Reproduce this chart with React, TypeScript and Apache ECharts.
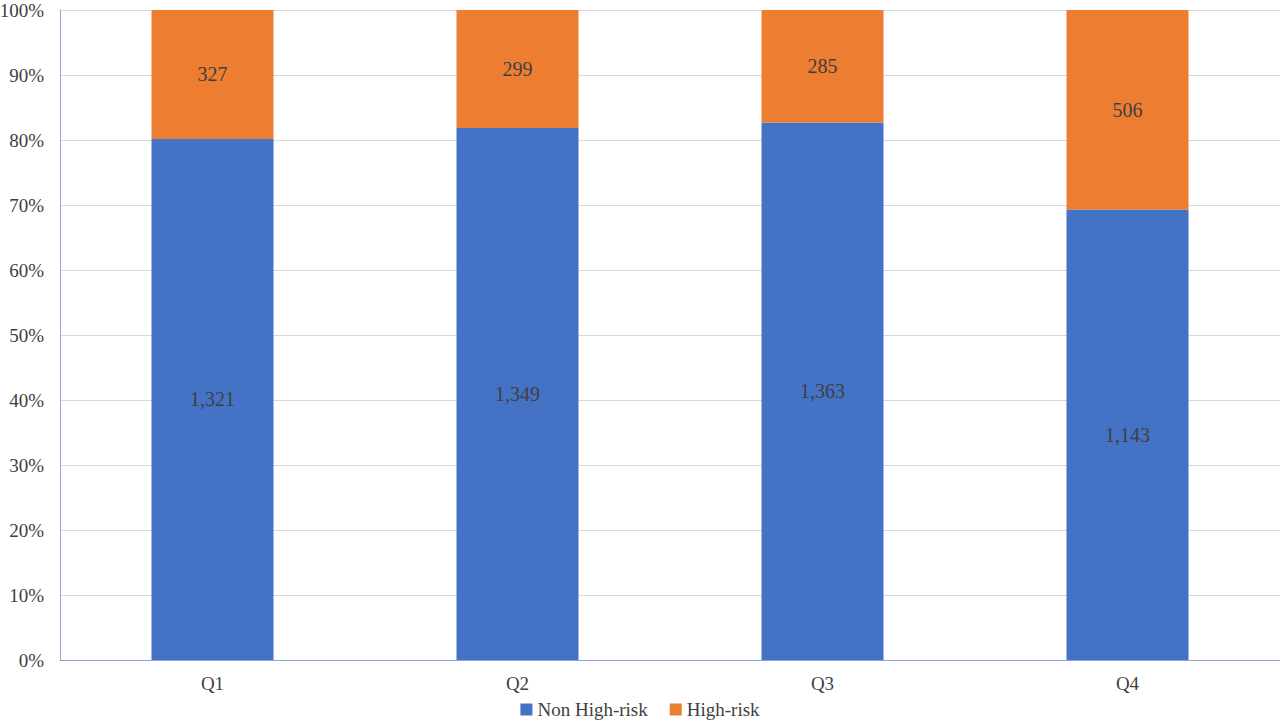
import React, { useEffect, useRef } from "react";
import * as echarts from "echarts";

const categories = ["Q1", "Q2", "Q3", "Q4"];
const nonHighRisk = [1321, 1349, 1363, 1143];
const highRisk = [327, 299, 285, 506];
const seriesNames = ["Non High-risk", "High-risk"];

export default function App() {
  const ref = useRef<HTMLDivElement>(null);
  useEffect(() => {
    if (!ref.current) return;
    const chart = echarts.init(ref.current, undefined, { renderer: "svg" });
    const totals = categories.map((_, i) => nonHighRisk[i] + highRisk[i]);
    const mk = (arr: number[]) =>
      arr.map((v, i) => ({ value: (v / totals[i]) * 100, raw: v }));
    const font = "'Liberation Serif', 'Times New Roman', serif";
    const labelCfg = {
      show: true,
      position: "inside",
      color: "#404040",
      fontFamily: font,
      fontSize: 20,
      formatter: (p: any) => p.data.raw.toLocaleString("en-US"),
    };
    chart.setOption({
      animation: false,
      textStyle: { fontFamily: font },
      grid: { left: 60, right: 0, top: 10, bottom: 65, outerBoundsMode: "none", containLabel: false },
      legend: {
        bottom: 1,
        left: "center",
        itemWidth: 12,
        itemHeight: 12,
        itemGap: 22,
        icon: "rect",
        textStyle: { fontFamily: font, fontSize: 19, color: "#404040" },
        data: seriesNames,
      },
      xAxis: {
        type: "category",
        data: categories,
        axisLine: { lineStyle: { color: "#8fa4d8", width: 1 } },
        axisTick: { show: false },
        axisLabel: { fontFamily: font, fontSize: 19, color: "#404040", margin: 14 },
      },
      yAxis: {
        type: "value",
        min: 0,
        max: 100,
        interval: 10,
        axisLine: { show: true, lineStyle: { color: "#8fa4d8", width: 1 } },
        axisTick: { show: false },
        splitLine: { lineStyle: { color: "#d9d9d9" } },
        axisLabel: {
          fontFamily: font,
          fontSize: 19,
          color: "#404040",
          margin: 16,
          formatter: "{value}%",
        },
      },
      series: [
        {
          name: seriesNames[0],
          type: "bar",
          stack: "total",
          barWidth: "40%",
          itemStyle: { color: "#4472c4" },
          label: labelCfg,
          data: mk(nonHighRisk),
        },
        {
          name: seriesNames[1],
          type: "bar",
          stack: "total",
          barWidth: "40%",
          itemStyle: { color: "#ed7d31" },
          label: labelCfg,
          data: mk(highRisk),
        },
      ],
    });
    return () => chart.dispose();
  }, []);
  return (
    <div
      ref={ref}
      style={{ position: "absolute", left: 0, top: 0, width: 1280, height: 725, background: "#fff" }}
    />
  );
}
